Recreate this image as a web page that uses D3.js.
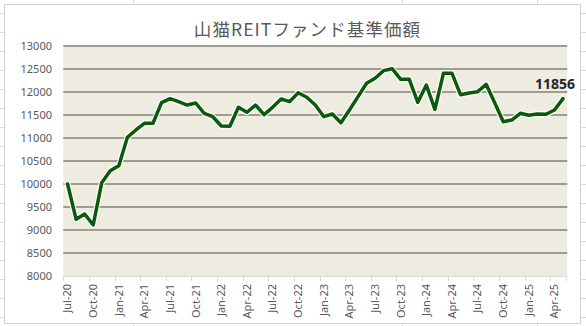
<!DOCTYPE html>
<html>
<head>
<meta charset="utf-8">
<script src="https://cdn.jsdelivr.net/npm/d3@7"></script>
<style>
  html, body { margin: 0; padding: 0; background: #ffffff; }
  svg { display: block; }
</style>
</head>
<body>
<svg id="chart" width="586" height="326"></svg>
<script>
// ---- data ----
const title = "山猫REITファンド基準価額";
const startMonth = new Date(2020, 6, 1);   // Jul-20
const endMonth = new Date(2025, 5, 1);     // exclusive (after May-25)
const values = [
  10000, 9233, 9348, 9109, 10029, 10289, 10398, 11015, 11174, 11320,
  11320, 11768, 11855, 11790, 11717, 11761, 11537, 11463, 11261, 11254,
  11667, 11559, 11717, 11508, 11667, 11848, 11790, 11985, 11885, 11717,
  11463, 11522, 11333, 11609, 11899, 12189, 12298, 12464, 12507, 12276,
  12276, 11776, 12152, 11624, 12406, 12406, 11942, 11978, 12007, 12167,
  11768, 11355, 11391, 11537, 11493, 11522, 11515, 11609, 11856
];
const yTicks = [8000, 8500, 9000, 9500, 10000, 10500, 11000, 11500, 12000, 12500, 13000];
const lastLabel = "11856";

// ---- layout ----
const svg = d3.select("#chart");
const W = 586, H = 326;
const plot = { left: 63.3, right: 567.3, top: 46, bottom: 276 };

const months = d3.timeMonth.range(startMonth, endMonth);
const fmt = d3.timeFormat("%b-%y");
const tickMonths = months.filter((d, i) => i % 3 === 0);

// spreadsheet background
const bg = svg.append("g");
bg.append("rect").attr("width", W).attr("height", H).attr("fill", "#ffffff");
for (let yy = 13; yy < H; yy += 19) {
  bg.append("line").attr("x1", 0).attr("x2", W).attr("y1", yy + 0.5).attr("y2", yy + 0.5)
    .attr("stroke", "#dadada").attr("stroke-width", 1);
}
[133, 402, 537].forEach(xx => bg.append("line").attr("x1", xx + 0.5).attr("x2", xx + 0.5)
  .attr("y1", 0).attr("y2", H).attr("stroke", "#dadada"));

// chart area
svg.append("rect").attr("x", 4.5).attr("y", 4.5).attr("width", 576).attr("height", 319)
  .attr("fill", "#ffffff").attr("stroke", "#d0d0d0");

// scales
const x = d3.scaleBand().domain(months.map(d => +d)).range([plot.left, plot.right]).padding(0);
const cx = d => x(+d) + x.bandwidth() / 2;
const y = d3.scaleLinear().domain([8000, 13000]).range([plot.bottom, plot.top]);

// plot background
svg.append("rect").attr("x", plot.left).attr("y", plot.top)
  .attr("width", plot.right - plot.left).attr("height", plot.bottom - plot.top)
  .attr("fill", "#EEECE1");

// gridlines
svg.append("g").selectAll("line").data(yTicks.filter(v => v > 8000)).join("line")
  .attr("x1", plot.left).attr("x2", plot.right)
  .attr("y1", d => y(d)).attr("y2", d => y(d))
  .attr("stroke", "#9f9c90").attr("stroke-width", 2);

// y axis labels
svg.append("g").selectAll("text").data(yTicks).join("text")
  .attr("x", 52).attr("y", d => y(d)).attr("dy", "0.35em")
  .attr("text-anchor", "end")
  .attr("font-family", "'Noto Sans', sans-serif").attr("font-size", 11)
  .attr("fill", "#595959")
  .text(d => d);

// x axis line and ticks
svg.append("line").attr("x1", plot.left).attr("x2", plot.right)
  .attr("y1", plot.bottom + 0.5).attr("y2", plot.bottom + 0.5)
  .attr("stroke", "#d9d9d9");
svg.append("g").selectAll("line").data(tickMonths).join("line")
  .attr("x1", d => Math.round(x(+d)) + 0.5).attr("x2", d => Math.round(x(+d)) + 0.5)
  .attr("y1", plot.bottom).attr("y2", plot.bottom + 5)
  .attr("stroke", "#d9d9d9");
svg.append("line").attr("x1", plot.right - 0.5).attr("x2", plot.right - 0.5)
  .attr("y1", plot.bottom).attr("y2", plot.bottom + 5).attr("stroke", "#d9d9d9");

svg.append("g").selectAll("text").data(tickMonths).join("text")
  .attr("transform", d => `translate(${cx(d)},${plot.bottom + 8}) rotate(-90)`)
  .attr("dy", "0.35em")
  .attr("text-anchor", "end")
  .attr("font-family", "'Noto Sans', sans-serif").attr("font-size", 11)
  .attr("fill", "#595959")
  .text(d => fmt(d));

// line
const line = d3.line().x((d, i) => cx(months[i])).y(d => y(d)).curve(d3.curveLinear);
svg.append("path").datum(values).attr("d", line)
  .attr("fill", "none").attr("stroke", "#ffffff").attr("stroke-opacity", 0.85)
  .attr("stroke-width", 6).attr("stroke-linejoin", "round").attr("stroke-linecap", "round");
svg.append("path").datum(values).attr("d", line)
  .attr("fill", "none").attr("stroke", "#0b5a0b")
  .attr("stroke-width", 3.5).attr("stroke-linejoin", "round").attr("stroke-linecap", "round");

// last data label
const li = values.length - 1;
svg.append("text")
  .attr("x", cx(months[li]) - 8).attr("y", y(values[li]) - 10)
  .attr("text-anchor", "middle")
  .attr("font-family", "'Noto Sans', sans-serif").attr("font-size", 14)
  .attr("font-weight", "bold").attr("fill", "#262626")
  .text(lastLabel);

// title
svg.append("text").attr("x", 307.5).attr("y", 36)
  .attr("text-anchor", "middle")
  .attr("font-family", "'Noto Sans CJK JP', 'Noto Sans', sans-serif").attr("font-size", 17.5)
  .attr("letter-spacing", "1.1px")
  .attr("fill", "#595959")
  .text(title);
</script>
</body>
</html>
